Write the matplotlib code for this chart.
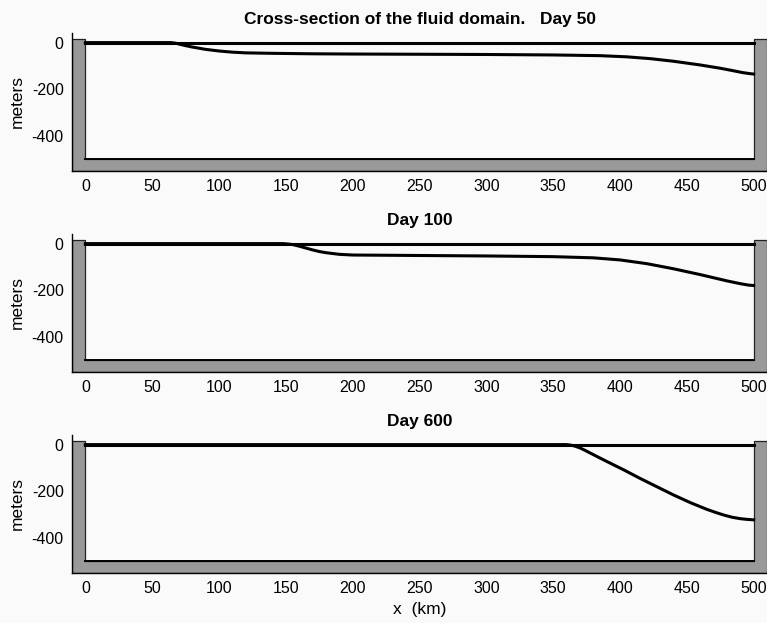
import numpy as np
import matplotlib
matplotlib.use("Agg")
import matplotlib.pyplot as plt
from matplotlib.patches import Polygon

plt.rcParams.update({
    "font.family": ["Liberation Sans", "DejaVu Sans"],
    "font.size": 11,
    "axes.unicode_minus": False,
})

# ---------------------------------------------------------------------------
# Data: interface depth (m) vs distance (km)
# ---------------------------------------------------------------------------
days = [50, 100, 600]

x_day50 = [0, 64, 67, 70, 75, 80, 85, 90, 100, 110, 120, 140, 170, 200, 250,
           300, 350, 385, 405, 423, 440, 460, 475, 485, 492, 497, 500]
z_day50 = [0, 0, -2, -6, -13, -19, -24, -29, -36, -41, -44, -46, -48, -49,
           -50, -51, -53, -56, -61, -69, -80, -96, -110, -121, -129, -133,
           -135]

x_day100 = [0, 148, 152, 155, 160, 165, 170, 175, 180, 190, 200, 250, 300,
            350, 380, 400, 420, 440, 460, 480, 490, 496, 500]
z_day100 = [0, 0, -2, -4, -11, -19, -27, -34, -39, -46, -49, -51, -53, -56,
            -61, -70, -86, -108, -133, -160, -172, -178, -180]

x_day600 = [0, 360, 363, 366, 370, 374, 378, 390, 403, 415, 428, 440, 453,
            465, 472, 478, 484, 490, 495, 500]
z_day600 = [0, 0, -2, -6, -14, -25, -37, -72, -109, -145, -182, -216, -250,
            -278, -292, -303, -312, -318, -321, -323]

profiles = [(x_day50, z_day50), (x_day100, z_day100), (x_day600, z_day600)]
titles = ["Cross-section of the fluid domain.   Day 50", "Day 100", "Day 600"]

# basin geometry
basin_len = 500     # km
basin_depth = 500   # m
wall = 10           # wall thickness
wall_top = 15
floor_bottom = -550

x_ticks = np.arange(0, 501, 50)
y_ticks = [0, -200, -400]

BG = "#fafafa"

fig = plt.figure(figsize=(7.67, 6.23), dpi=100, facecolor=BG)

ax_left, ax_width, ax_height = 72 / 767, 695 / 767, 137.4 / 623
bottoms = [1 - 170.7 / 623, 1 - 371.7 / 623, 1 - 572.7 / 623]

for i, (xs, zs) in enumerate(profiles):
    ax = fig.add_axes([ax_left, bottoms[i], ax_width, ax_height])
    ax.set_facecolor(BG)

    # grey walls and floor
    verts = [(-wall, wall_top), (0, wall_top), (0, -basin_depth),
             (basin_len, -basin_depth), (basin_len, wall_top),
             (basin_len + wall, wall_top), (basin_len + wall, floor_bottom),
             (-wall, floor_bottom)]
    ax.add_patch(Polygon(verts, closed=True, facecolor="#999999",
                         edgecolor="#222222", lw=0.9, zorder=2))
    ax.plot([0, basin_len], [-basin_depth, -basin_depth], color="black",
            lw=1.4, zorder=3)

    # free surface and interface
    ax.plot([0, basin_len], [0, 0], color="black", lw=2.2, zorder=3)
    ax.plot(xs, zs, color="black", lw=2.2, zorder=4,
            solid_joinstyle="round")

    ax.set_xlim(-wall, basin_len + wall)
    ax.set_ylim(floor_bottom, 40)
    ax.set_xticks(x_ticks)
    ax.set_yticks(y_ticks)
    ax.tick_params(direction="in", length=3, width=0.6, pad=6, labelsize=11.5)
    for s in ["top", "right"]:
        ax.spines[s].set_visible(False)
    ax.spines["left"].set_linewidth(1.0)
    ax.spines["bottom"].set_linewidth(1.0)

    ax.set_ylabel("meters", fontsize=12.5)
    ax.yaxis.set_label_coords(-0.068, 0.5)
    ax.set_title(titles[i], fontweight="bold", fontsize=12.5, pad=6.5)
    if i == 2:
        ax.set_xlabel("x  (km)", fontsize=12.5, labelpad=4)

fig.savefig("out.png", dpi=100, facecolor=BG)
